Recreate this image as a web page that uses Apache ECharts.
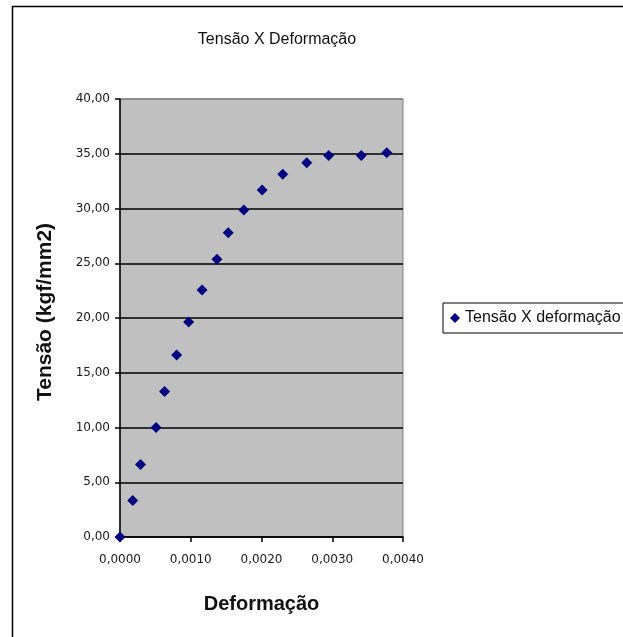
<!DOCTYPE html>
<html>
<head>
<meta charset="utf-8">
<script src="https://cdn.jsdelivr.net/npm/echarts@6/dist/echarts.min.js"></script>
<style>
  html, body { margin: 0; padding: 0; background: #fff; }
  #chart { width: 623px; height: 637px; }
</style>
</head>
<body>
<div id="chart"></div>
<script>
// Ensaio de tração: deformação (mm/mm) e tensão (kgf/mm2)
const deformacao = [0, 0.00018, 0.00029, 0.00051, 0.00063, 0.00080, 0.00097, 0.00116,
  0.00137, 0.00153, 0.00175, 0.00201, 0.00230, 0.00264, 0.00295, 0.00341, 0.00377];
const tensao = [0, 3.34, 6.63, 10.0, 13.28, 16.63, 19.64, 22.56,
  25.36, 27.79, 29.86, 31.69, 33.12, 34.18, 34.85, 34.85, 35.09];

const titulo = 'Tensão X Deformação';
const nomeSerie = 'Tensão X deformação';
const nomeEixoX = 'Deformação';
const nomeEixoY = 'Tensão (kgf/mm2)';

const pontos = deformacao.map((d, i) => [d, tensao[i]]);
const virgula = (v, casas) => v.toFixed(casas).replace('.', ',');

const chart = echarts.init(document.getElementById('chart'));
chart.setOption({
  animation: false,
  backgroundColor: '#ffffff',
  textStyle: { fontFamily: 'Liberation Sans' },
  title: {
    text: titulo,
    left: 272,
    top: 27,
    textAlign: 'center',
    textStyle: { fontFamily: 'Liberation Sans', fontSize: 16, fontWeight: 'normal', color: '#111' }
  },
  graphic: [{
    type: 'rect',
    left: 10, top: 4,
    shape: { width: 700, height: 700 },
    style: { fill: 'none', stroke: '#000', lineWidth: 1.5 },
    silent: true,
    z: -1
  }],
  legend: {
    data: [{ name: nomeSerie, icon: 'diamond' }],
    left: 443,
    top: 303,
    orient: 'vertical',
    padding: [7, 10, 7, 7],
    itemWidth: 10,
    itemHeight: 10,
    borderColor: '#000',
    borderWidth: 1,
    itemStyle: { opacity: 1 },
    textStyle: { fontFamily: 'Liberation Sans', fontSize: 16, color: '#111' }
  },
  grid: {
    left: 120, right: 220, top: 99, bottom: 100,
    show: true,
    backgroundColor: '#c0c0c0',
    borderColor: '#808080',
    borderWidth: 1
  },
  xAxis: {
    type: 'value',
    min: 0, max: 0.004, interval: 0.001,
    name: nomeEixoX,
    nameLocation: 'middle',
    nameGap: 57,
    nameTextStyle: { fontFamily: 'Liberation Sans', fontSize: 20, fontWeight: 'bold', color: '#111' },
    axisLine: { show: true, onZero: false, lineStyle: { color: '#000', width: 1.5 } },
    axisTick: { show: true, inside: false, length: 5, lineStyle: { color: '#000', width: 1.5 } },
    axisLabel: { margin: 17, fontFamily: 'DejaVu Sans', fontSize: 12, color: '#1a1a1a', formatter: v => virgula(v, 4) },
    splitLine: { show: false }
  },
  yAxis: {
    type: 'value',
    min: 0, max: 40, interval: 5,
    name: nomeEixoY,
    nameLocation: 'middle',
    nameGap: 64,
    nameTextStyle: { fontFamily: 'Liberation Sans', fontSize: 21, fontWeight: 'bold', color: '#111', padding: [0, 0, 0, 12] },
    axisLine: { show: true, onZero: false, lineStyle: { color: '#000', width: 1.5 } },
    axisTick: { show: true, inside: false, length: 5, lineStyle: { color: '#000', width: 1.5 } },
    axisLabel: { margin: 10, fontFamily: 'DejaVu Sans', fontSize: 12, color: '#1a1a1a', formatter: v => virgula(v, 2) },
    splitLine: {
      show: true,
      lineStyle: {
        color: ['#000', '#000', '#000', '#000', '#000', '#000', '#000', '#000', '#808080'],
        width: 1.5
      }
    }
  },
  series: [{
    name: nomeSerie,
    type: 'scatter',
    data: pontos,
    symbol: 'diamond',
    symbolSize: 11,
    itemStyle: { color: '#000080', opacity: 1 },
    clip: false
  }]
});
</script>
</body>
</html>
